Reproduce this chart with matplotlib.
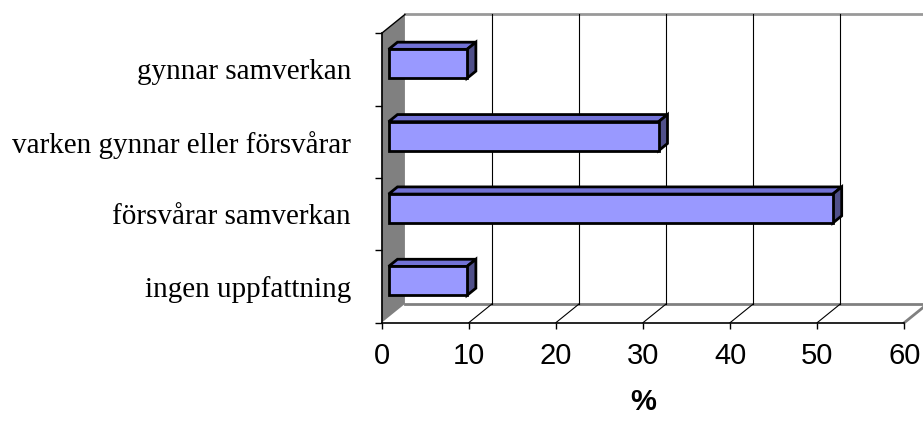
import matplotlib.pyplot as plt
from matplotlib.patches import Polygon, Rectangle

# categories bottom to top, values in %
categories = ['ingen uppfattning', 'försvårar samverkan',
              'varken gynnar eller försvårar', 'gynnar samverkan']
values = [9, 51, 31, 9]
xticks = [0, 10, 20, 30, 40, 50, 60]

fig = plt.figure(figsize=(9.23, 4.23), dpi=100)
ax = fig.add_axes([0.4135, 0.2371, 0.5662, 0.6842])
ax.set_xlim(0, 60)
ax.set_ylim(0, len(categories))
ax.patch.set_visible(False)

# depth of the 3d box in data units
dx, dy = 2.67, 0.26
f1, f2 = 0.3, 0.68
bar_h = 0.4
wall_gray = '#808080'

# left wall
ax.add_patch(Polygon([(0, 0), (dx, dy), (dx, 4 + dy), (0, 4)], closed=True,
                     facecolor=wall_gray, edgecolor='none', zorder=1, clip_on=False))
ax.plot([0, dx], [4, 4 + dy], color='black', lw=1, zorder=2, clip_on=False)
# back wall top and floor back edge
ax.plot([dx, 60 + dx], [4 + dy, 4 + dy], color='#999999', lw=2, zorder=1, clip_on=False)
ax.plot([dx, 60 + dx], [dy, dy], color=wall_gray, lw=2, zorder=1, clip_on=False)
ax.plot([60, 60 + dx], [0, dy], color=wall_gray, lw=2, zorder=1, clip_on=False)

# gridlines on back wall and floor
for v in xticks[1:-1]:
    ax.plot([v + dx, v + dx], [dy, 4 + dy], color='black', lw=0.8, zorder=1, clip_on=False)
    ax.plot([v, v + dx], [0, dy], color='black', lw=0.8, zorder=1, clip_on=False)

# 3d bars
x0 = f1 * dx
bdx, bdy = (f2 - f1) * dx, (f2 - f1) * dy
for i, val in enumerate(values):
    y0 = i + 0.5 - bar_h / 2 + f1 * dy
    x1 = x0 + val
    y1 = y0 + bar_h
    ax.add_patch(Polygon([(x0, y1), (x1, y1), (x1 + bdx, y1 + bdy), (x0 + bdx, y1 + bdy)],
                         closed=True, facecolor='#7272D6', edgecolor='black',
                         lw=2, joinstyle='miter', zorder=3))
    ax.add_patch(Polygon([(x1, y0), (x1 + bdx, y0 + bdy), (x1 + bdx, y1 + bdy), (x1, y1)],
                         closed=True, facecolor='#50508A', edgecolor='black',
                         lw=2, joinstyle='miter', zorder=3))
    ax.add_patch(Rectangle((x0, y0), val, bar_h, facecolor='#9999FF',
                           edgecolor='black', lw=2, joinstyle='miter', zorder=4))

for side in ['top', 'right']:
    ax.spines[side].set_visible(False)
for side in ['left', 'bottom']:
    ax.spines[side].set_color('black')
    ax.spines[side].set_linewidth(1.2)
    ax.spines[side].set_zorder(5)

ax.set_xticks(xticks)
ax.set_xticklabels([str(t) for t in xticks], fontsize=21, family='Liberation Sans')
ax.tick_params(axis='x', length=4, width=1, pad=10)

ax.set_yticks(range(len(categories) + 1))
ax.set_yticklabels([])
ax.tick_params(axis='y', which='major', length=5, width=1)
ax.set_yticks([i + 0.5 for i in range(len(categories))], minor=True)
ax.set_yticklabels(categories, minor=True, fontsize=21, family='Liberation Serif')
ax.tick_params(axis='y', which='minor', length=0, pad=22)

ax.set_xlabel('%', fontsize=21, fontweight='bold', family='Liberation Sans', labelpad=13)

fig.savefig('out.png', dpi=100)
